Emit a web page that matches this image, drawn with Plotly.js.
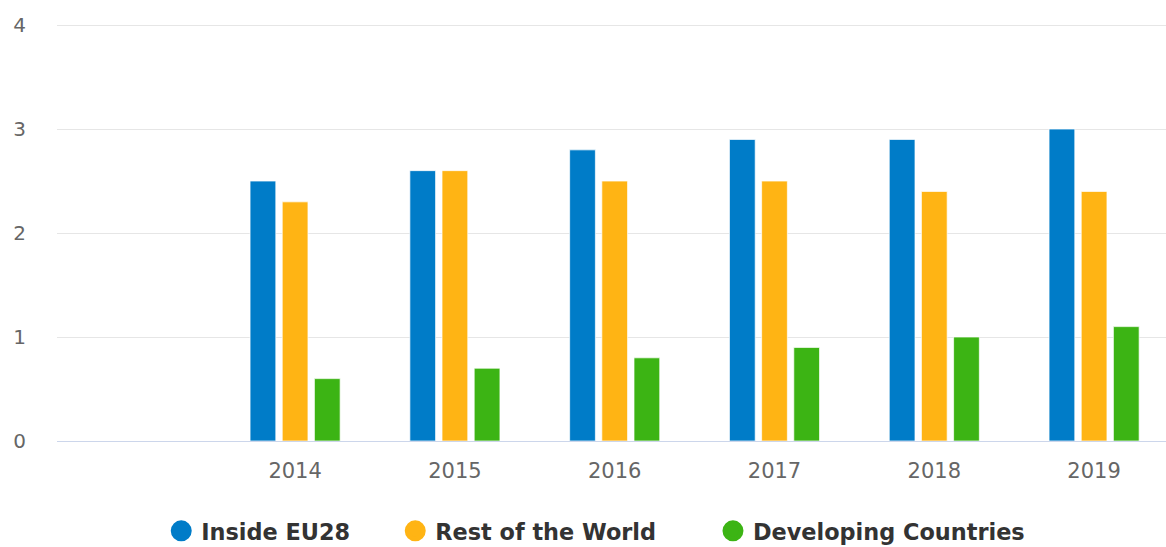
<!DOCTYPE html>
<html>
<head>
<meta charset="utf-8">
<script src="https://cdn.plot.ly/plotly-3.0.1.min.js"></script>
<style>html,body{margin:0;padding:0;background:#fff;}#chart{width:1166px;height:547px;}</style>
</head>
<body>
<div id="chart"></div>
<script>
const years = ['2014', '2015', '2016', '2017', '2018', '2019'];
const insideEU28 = [2.5, 2.6, 2.8, 2.9, 2.9, 3.0];
const restOfWorld = [2.3, 2.6, 2.5, 2.5, 2.4, 2.4];
const developing = [0.6, 0.7, 0.8, 0.9, 1.0, 1.1];
const seriesNames = ['Inside EU28', 'Rest of the World', 'Developing Countries'];
const colors = ['#007cc8', '#ffb414', '#3cb414'];

// first slot on the axis is an empty category; years occupy positions 1..6
const xpos = years.map((_, i) => i + 1);
const seriesData = [insideEU28, restOfWorld, developing];
const legendIds = ['legend', 'legend2', 'legend3'];
const legendX = [0.094, 0.305, 0.5915];

const traces = [];
seriesData.forEach((vals, i) => {
  traces.push({
    type: 'bar', x: xpos, y: vals, name: seriesNames[i],
    marker: {color: colors[i], line: {color: 'rgba(255,255,255,0.7)', width: 1}},
    showlegend: false, hoverinfo: 'y'
  });
});
seriesData.forEach((vals, i) => {
  traces.push({
    type: 'scatter', mode: 'markers', x: [null], y: [null], name: seriesNames[i],
    marker: {color: colors[i], size: 16, symbol: 'circle', line: {color: colors[i], width: 5}},
    showlegend: true, legend: legendIds[i]
  });
});

const legendFont = {family: 'DejaVu Sans', size: 22.4, color: '#333', weight: 'bold'};
const layout = {
  width: 1166, height: 547,
  margin: {l: 57, r: 0, t: 23, b: 106, autoexpand: false},
  paper_bgcolor: '#fff', plot_bgcolor: '#fff',
  barmode: 'group', bargap: 0.396, bargroupgap: 0.2,
  font: {family: 'DejaVu Sans', color: '#666'},
  xaxis: {
    type: 'linear', range: [-0.49, 6.45],
    tickvals: xpos, ticktext: years, ticks: '',
    tickfont: {family: 'DejaVu Sans', size: 21, color: '#666'},
    showgrid: false, zeroline: false,
    showline: true, linecolor: '#ccd6eb', linewidth: 1,
    ticklabelstandoff: 11, fixedrange: true
  },
  yaxis: {
    range: [0, 4.02], tickvals: [0, 1, 2, 3, 4], ticks: '',
    tickfont: {family: 'DejaVu Sans', size: 20, color: '#666'},
    showgrid: true, gridcolor: '#e6e6e6', gridwidth: 1,
    zeroline: false, showline: false,
    ticklabelstandoff: 30, fixedrange: true
  },
  showlegend: true
};
legendIds.forEach((id, i) => {
  layout[id] = {
    orientation: 'h', x: legendX[i], xanchor: 'left', y: -0.216, yanchor: 'middle',
    font: legendFont, itemclick: false, itemdoubleclick: false,
    bgcolor: 'rgba(0,0,0,0)', borderwidth: 0
  };
});

Plotly.newPlot('chart', traces, layout, {displayModeBar: false, staticPlot: true});
</script>
</body>
</html>
